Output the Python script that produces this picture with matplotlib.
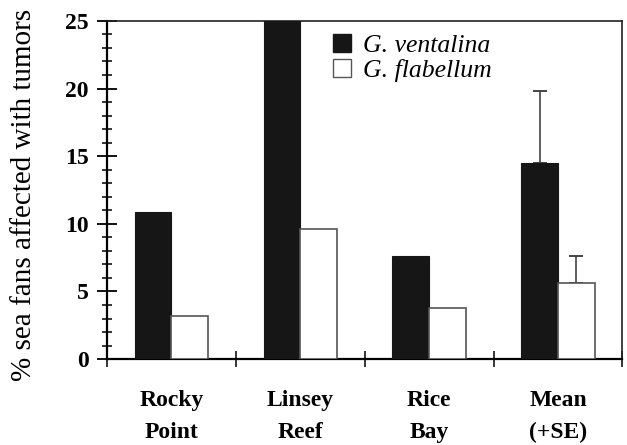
import numpy as np
import matplotlib
matplotlib.use("Agg")
import matplotlib.pyplot as plt
from matplotlib.ticker import MultipleLocator
from matplotlib.patches import Patch

plt.rcParams["font.family"] = ["Liberation Serif", "DejaVu Serif"]

sites = ["Rocky\nPoint", "Linsey\nReef", "Rice\nBay", "Mean\n(+SE)"]
ventalina = [10.9, 25.0, 7.6, 14.5]
flabellum = [3.2, 9.6, 3.8, 5.6]
ventalina_se = [0, 0, 0, 5.35]
flabellum_se = [0, 0, 0, 2.0]

fig = plt.figure(figsize=(6.27, 4.45), dpi=100)
ax = fig.add_axes([0.1707, 0.193, 0.822, 0.76])

x = np.arange(len(sites)) + 0.5
w = 0.285

ax.bar(x - w / 2, ventalina, w, color="#161616", edgecolor="#161616", lw=0.8, zorder=3)
ax.bar(x + w / 2, flabellum, w, color="white", edgecolor="#555555", lw=1.2, zorder=3)

# upward-only standard error on the mean group
ax.errorbar(x[3] - w / 2, ventalina[3], yerr=[[0], [ventalina_se[3]]], fmt="none",
            ecolor="#444444", elinewidth=1.2, capsize=5, capthick=1.4, zorder=2)
ax.errorbar(x[3] + w / 2, flabellum[3], yerr=[[0], [flabellum_se[3]]], fmt="none",
            ecolor="#444444", elinewidth=1.2, capsize=5, capthick=1.4, zorder=2)

ax.set_xlim(0, 4)
ax.set_ylim(0, 25)
ax.yaxis.set_major_locator(MultipleLocator(5))
ax.yaxis.set_minor_locator(MultipleLocator(1))
ax.set_xticks([0, 1, 2, 3, 4])
ax.set_xticklabels([])
ax.set_xticks(x, minor=True)
ax.set_xticklabels(sites, minor=True, fontsize=17, fontweight="bold", linespacing=1.7)

ax.tick_params(axis="y", which="major", direction="inout", length=14, width=1.3,
               labelsize=17, pad=6)
ax.tick_params(axis="y", which="minor", direction="inout", length=7, width=1.1)
ax.tick_params(axis="x", which="major", direction="inout", length=12, width=1.1)
ax.tick_params(axis="x", which="minor", length=0, pad=22)
for lab in ax.get_yticklabels():
    lab.set_fontweight("bold")

for side in ["left", "bottom"]:
    ax.spines[side].set_linewidth(1.6)
for side in ["top", "right"]:
    ax.spines[side].set_linewidth(1.2)
    ax.spines[side].set_color("#222222")

fig.text(0.039, 0.562, "% sea fans affected with tumors", fontsize=21,
         rotation=90, ha="center", va="center")

handles = [Patch(facecolor="#161616", edgecolor="#161616"),
           Patch(facecolor="white", edgecolor="#555555")]
ax.legend(handles, ["G. ventalina", "G. flabellum"], loc="upper left",
          bbox_to_anchor=(0.414, 1.0), frameon=False, borderpad=0,
          prop={"family": "Liberation Serif", "style": "italic", "size": 18.5},
          handlelength=0.7, handleheight=0.7, handletextpad=0.45, labelspacing=0.1)

fig.savefig("out.png", dpi=100)
